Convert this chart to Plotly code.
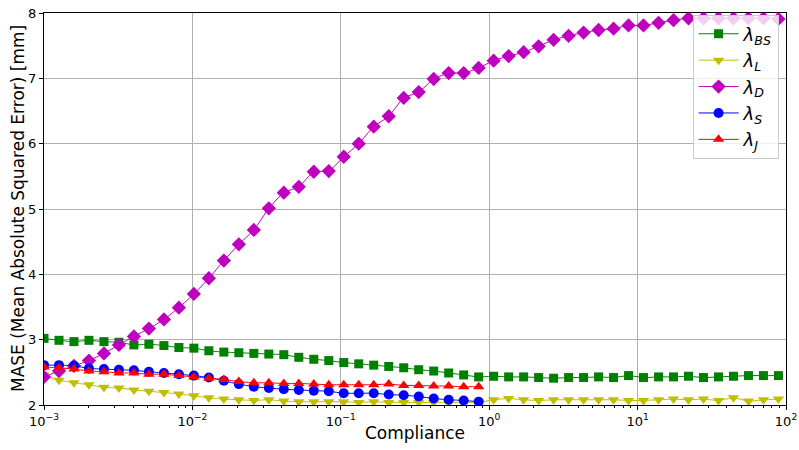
import plotly.graph_objects as go

compliance = [1.000e-3, 1.262e-3, 1.592e-3, 2.009e-3, 2.535e-3, 3.199e-3, 4.036e-3, 5.093e-3, 6.427e-3, 8.110e-3,
              1.023e-2, 1.291e-2, 1.629e-2, 2.056e-2, 2.594e-2, 3.273e-2, 4.130e-2, 5.212e-2, 6.577e-2, 8.299e-2,
              0.1047, 0.1321, 0.1667, 0.2104, 0.2655, 0.3350, 0.4227, 0.5333, 0.6730, 0.8492,
              1.072, 1.352, 1.706, 2.153, 2.716, 3.428, 4.325, 5.458, 6.887, 8.690,
              10.96, 13.84, 17.46, 22.03, 27.80, 35.08, 44.26, 55.85, 70.47, 88.92]

lam_BS = [3.02, 2.99, 2.97, 2.99, 2.97, 2.96, 2.92, 2.93, 2.91, 2.88,
          2.87, 2.83, 2.81, 2.80, 2.79, 2.78, 2.77, 2.73, 2.70, 2.68,
          2.65, 2.63, 2.61, 2.59, 2.57, 2.54, 2.52, 2.49, 2.46, 2.43,
          2.44, 2.43, 2.43, 2.42, 2.41, 2.42, 2.42, 2.43, 2.42, 2.45,
          2.42, 2.43, 2.43, 2.44, 2.42, 2.43, 2.44, 2.45, 2.45, 2.45]

lam_L = [2.46, 2.38, 2.34, 2.31, 2.27, 2.26, 2.23, 2.21, 2.19, 2.17,
         2.14, 2.11, 2.09, 2.08, 2.07, 2.08, 2.06, 2.05, 2.05, 2.05,
         2.05, 2.04, 2.05, 2.04, 2.04, 2.04, 2.04, 2.04, 2.04, 2.04,
         2.08, 2.10, 2.08, 2.07, 2.08, 2.08, 2.08, 2.08, 2.08, 2.07,
         2.07, 2.08, 2.09, 2.08, 2.09, 2.07, 2.11, 2.06, 2.08, 2.09]

lam_D = [2.43, 2.52, 2.60, 2.68, 2.79, 2.92, 3.05, 3.17, 3.31, 3.49,
         3.70, 3.94, 4.21, 4.46, 4.68, 5.01, 5.25, 5.34, 5.57, 5.58,
         5.80, 6.00, 6.26, 6.42, 6.70, 6.79, 6.99, 7.08, 7.08, 7.16,
         7.27, 7.34, 7.40, 7.49, 7.59, 7.65, 7.70, 7.74, 7.76, 7.81,
         7.81, 7.85, 7.89, 7.92, 7.92, 7.92, 7.92, 7.92, 7.92, 7.91]

lam_S = [2.61, 2.61, 2.60, 2.56, 2.55, 2.54, 2.53, 2.51, 2.49, 2.47,
         2.45, 2.42, 2.37, 2.32, 2.28, 2.26, 2.24, 2.23, 2.22, 2.21,
         2.18, 2.18, 2.18, 2.16, 2.15, 2.13, 2.10, 2.08, 2.07, 2.05]

lam_J = [2.58, 2.57, 2.55, 2.52, 2.51, 2.49, 2.49, 2.47, 2.47, 2.45,
         2.43, 2.41, 2.39, 2.36, 2.34, 2.34, 2.33, 2.33, 2.32, 2.31,
         2.31, 2.31, 2.31, 2.32, 2.30, 2.30, 2.29, 2.29, 2.28, 2.28]

x_ticks = [1e-3, 1e-2, 1e-1, 1e0, 1e1, 1e2]
x_tick_text = ["10<sup>\u22123</sup>", "10<sup>\u22122</sup>", "10<sup>\u22121</sup>",
               "10<sup>0</sup>", "10<sup>1</sup>", "10<sup>2</sup>"]
y_ticks = [2, 3, 4, 5, 6, 7, 8]
x_title = "Compliance"
y_title = "MASE (Mean Absolute Squared Error) [mm]"

minor_ticks = [m * d for d in [1e-3, 1e-2, 1e-1, 1e0, 1e1] for m in range(2, 10)]

series = [
    ("<i>\u03bb</i><sub><i>BS</i></sub>", lam_BS, "#008000", "square", 9),
    ("<i>\u03bb</i><sub><i>L</i></sub>", lam_L, "#bfbf00", "triangle-down", 10),
    ("<i>\u03bb</i><sub><i>D</i></sub>", lam_D, "#bf00bf", "diamond", 11),
    ("<i>\u03bb</i><sub><i>S</i></sub>", lam_S, "#0000ff", "circle", 10),
    ("<i>\u03bb</i><sub><i>J</i></sub>", lam_J, "#ff0000", "triangle-up", 10),
]

fig = go.Figure()
for name, vals, color, sym, sz in series:
    fig.add_trace(go.Scatter(
        x=compliance[:len(vals)], y=vals, name=name, mode="lines+markers",
        line=dict(color=color, width=1, shape="spline", smoothing=0.6),
        marker=dict(color=color, symbol=sym, size=sz, line=dict(width=0)),
    ))

font = "DejaVu Sans, Liberation Sans, sans-serif"
fig.update_layout(
    width=799, height=450,
    margin=dict(l=44, r=13, t=13, b=45, autoexpand=False),
    paper_bgcolor="white", plot_bgcolor="white",
    font=dict(family=font, color="black", size=13),
    showlegend=True,
    legend=dict(x=0.99, y=0.996, xanchor="right", yanchor="top",
                bgcolor="rgba(255,255,255,0.8)", bordercolor="#cccccc", borderwidth=1,
                font=dict(size=18, family=font), itemwidth=40),
    xaxis=dict(type="log", range=[-3, 2], tickvals=x_ticks, ticktext=x_tick_text,
               automargin=False, ticklabeloverflow="allow",
               showgrid=True, gridcolor="#b0b0b0", gridwidth=1,
               showline=True, linecolor="black", linewidth=1, mirror=True,
               ticks="outside", ticklen=4, tickcolor="black",
               minor=dict(tickvals=minor_ticks, ticks="outside", ticklen=2, tickcolor="black", showgrid=False),
               tickfont=dict(size=13), zeroline=False),
    yaxis=dict(range=[2, 8], tickvals=y_ticks, automargin=False, ticklabeloverflow="allow",
               showgrid=True, gridcolor="#b0b0b0", gridwidth=1,
               showline=True, linecolor="black", linewidth=1, mirror=True,
               ticks="outside", ticklen=4, tickcolor="black",
               tickfont=dict(size=13), zeroline=False),
    annotations=[
        dict(text=x_title, xref="paper", yref="paper", x=0.5, y=0, xanchor="center",
             yanchor="middle", yshift=-28, showarrow=False, font=dict(size=17)),
        dict(text=y_title, xref="paper", yref="paper", x=0, y=0.5, xanchor="center",
             yanchor="middle", xshift=-26, textangle=-90, showarrow=False, font=dict(size=17)),
    ],
)

fig.write_html("out.html", config={"displayModeBar": False},
               post_script="document.body.style.margin='0';document.body.style.overflow='hidden';")
